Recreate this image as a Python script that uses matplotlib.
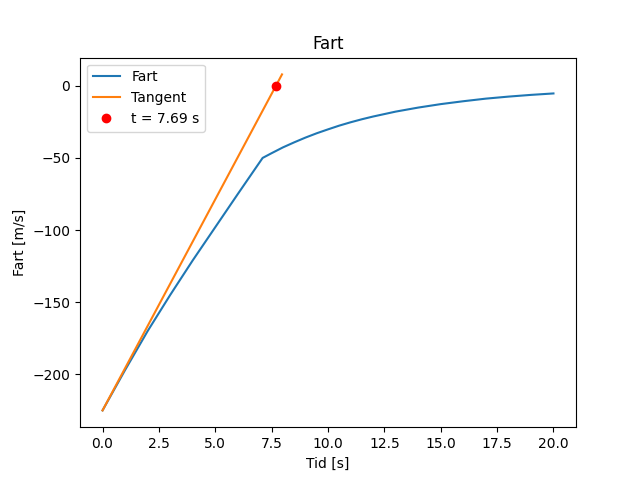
import matplotlib
matplotlib.use("Agg")
import matplotlib.pyplot as plt

# Fart-kurve
tid = [0.0, 1.0, 2.0, 3.0, 4.0, 5.0, 6.0, 7.1,
       7.5, 8.0, 8.5, 9.0, 9.5, 10.0, 10.5, 11.0, 11.5, 12.0, 13.0, 14.0,
       15.0, 16.0, 17.0, 18.0, 19.0, 20.0]
fart = [-225.0, -197.0, -170.0, -145.0, -121.0, -98.0, -75.0, -50.0,
        -46.7, -42.7, -39.2, -35.9, -32.9, -30.2, -27.6, -25.3, -23.2, -21.3, -17.9, -15.1,
        -12.7, -10.7, -8.9, -7.5, -6.3, -5.3]

# Tangent fra t = 0
tangent_t = [0.0, 7.96]
tangent_v = [-225.0, 7.9]

punkt_t = 7.69
punkt_v = 0.0

fig, ax = plt.subplots(figsize=(6.4, 4.8), dpi=100)
ax.plot(tid, fart, label="Fart")
ax.plot(tangent_t, tangent_v, label="Tangent")
ax.plot([punkt_t], [punkt_v], "ro", label=f"t = {punkt_t:.2f} s")
ax.set_title("Fart")
ax.set_xlabel("Tid [s]")
ax.set_ylabel("Fart [m/s]")
ax.legend(loc="upper left")
fig.savefig("out.png", dpi=100)
